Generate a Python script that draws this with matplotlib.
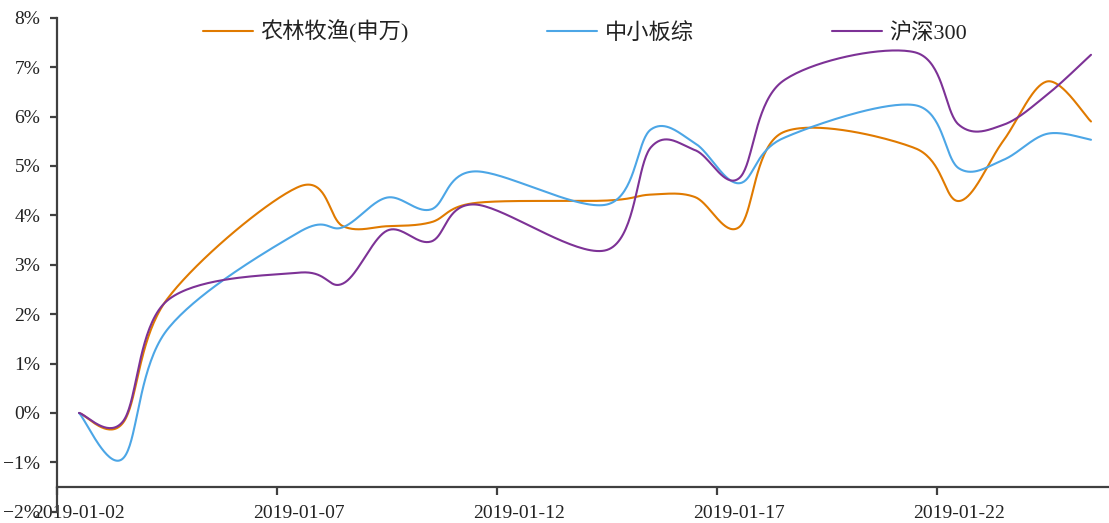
import numpy as np
import matplotlib
matplotlib.use("Agg")
import matplotlib.pyplot as plt
from matplotlib.ticker import FixedLocator, FuncFormatter

plt.rcParams['font.family'] = ['Liberation Serif', 'Noto Sans CJK SC', 'DejaVu Sans']

dates = ["2019-01-02", "2019-01-03", "2019-01-04", "2019-01-07", "2019-01-08",
         "2019-01-09", "2019-01-10", "2019-01-11", "2019-01-14", "2019-01-15",
         "2019-01-16", "2019-01-17", "2019-01-18", "2019-01-21", "2019-01-22",
         "2019-01-23", "2019-01-24", "2019-01-25"]

# cumulative returns, %
nonglin = [0.00, -0.20, 2.30, 4.58, 3.78, 3.78, 3.86, 4.25, 4.30, 4.42,
           4.37, 3.76, 5.68, 5.36, 4.29, 5.50, 6.71, 5.90]
zxb = [0.00, -0.92, 1.68, 3.66, 3.76, 4.36, 4.12, 4.89, 4.22, 5.74,
       5.46, 4.65, 5.56, 6.23, 4.95, 5.12, 5.65, 5.53]
hs300 = [0.00, -0.17, 2.27, 2.84, 2.62, 3.69, 3.47, 4.22, 3.30, 5.38,
         5.32, 4.75, 6.72, 7.30, 5.83, 5.83, 6.44, 7.25]

names = ["农林牧渔(申万)", "中小板综", "沪深300"]
colors = ["#E07A00", "#4CA6E6", "#7D3296"]

tick_labels = ["2019-01-02", "2019-01-07", "2019-01-12", "2019-01-17", "2019-01-22"]
y_ticks = list(range(-2, 9))

start = np.datetime64("2019-01-02")
days = (np.array(dates, dtype="datetime64[D]") - start).astype(float)
label_days = (np.array(tick_labels, dtype="datetime64[D]") - start).astype(float)


def smooth(x, y, n=40):
    # bezier smoothing through the points, like a spreadsheet "smoothed line"
    p = np.column_stack([x, y])
    p = np.vstack([p[0], p, p[-1]])
    out = []
    t = np.linspace(0, 1, n)[:, None]
    for i in range(1, len(p) - 2):
        b0 = p[i]
        b3 = p[i + 1]
        b1 = b0 + (p[i + 1] - p[i - 1]) / 6
        b2 = b3 - (p[i + 2] - p[i]) / 6
        seg = ((1 - t) ** 3) * b0 + 3 * ((1 - t) ** 2) * t * b1 + 3 * (1 - t) * t ** 2 * b2 + t ** 3 * b3
        out.append(seg if i == 1 else seg[1:])
    out = np.vstack(out)
    return out[:, 0], out[:, 1]


fig = plt.figure(figsize=(11.09, 5.23), dpi=100)
ax = fig.add_axes([57 / 1109, 11.25 / 523, 1056 / 1109, 494 / 523])

for vals, name, col in zip([nonglin, zxb, hs300], names, colors):
    sx, sy = smooth(days, vals)
    ax.plot(sx, sy, color=col, lw=1.5, label=name, solid_capstyle='round')

axes_col = "#404040"
ax.set_xlim(-0.5, 23.5)
ax.set_ylim(-2, 8)
for s in ["top", "right"]:
    ax.spines[s].set_visible(False)
ax.spines["left"].set_color(axes_col)
ax.spines["left"].set_linewidth(1.6)
ax.spines["bottom"].set_color(axes_col)
ax.spines["bottom"].set_linewidth(1.6)
ax.spines["bottom"].set_position(("data", -1.5))

ax.set_yticks(y_ticks)
ax.yaxis.set_major_formatter(FuncFormatter(lambda v, pos: f"{int(v)}%".replace("-", "\u2212")))
ax.tick_params(axis="y", direction="out", length=5, width=1.6, color=axes_col,
               labelsize=14, pad=7, labelcolor="#222222")

ax.xaxis.set_major_locator(FixedLocator(label_days - 0.5))
ax.xaxis.set_major_formatter(FuncFormatter(lambda v, pos: ""))
ax.set_xticks(label_days, tick_labels, minor=True)
ax.tick_params(axis="x", which="major", direction="out", length=6, width=1.6, color=axes_col)
ax.tick_params(axis="x", which="minor", length=0, labelsize=14, pad=13, labelcolor="#222222")

fig.legend(loc="center", bbox_to_anchor=(585 / 1109, 1 - 32 / 523), ncol=3, frameon=False,
           fontsize=16, handlelength=2.25, handletextpad=0.36, columnspacing=6.2,
           labelcolor="#222222")

fig.savefig("out.png", dpi=100)
